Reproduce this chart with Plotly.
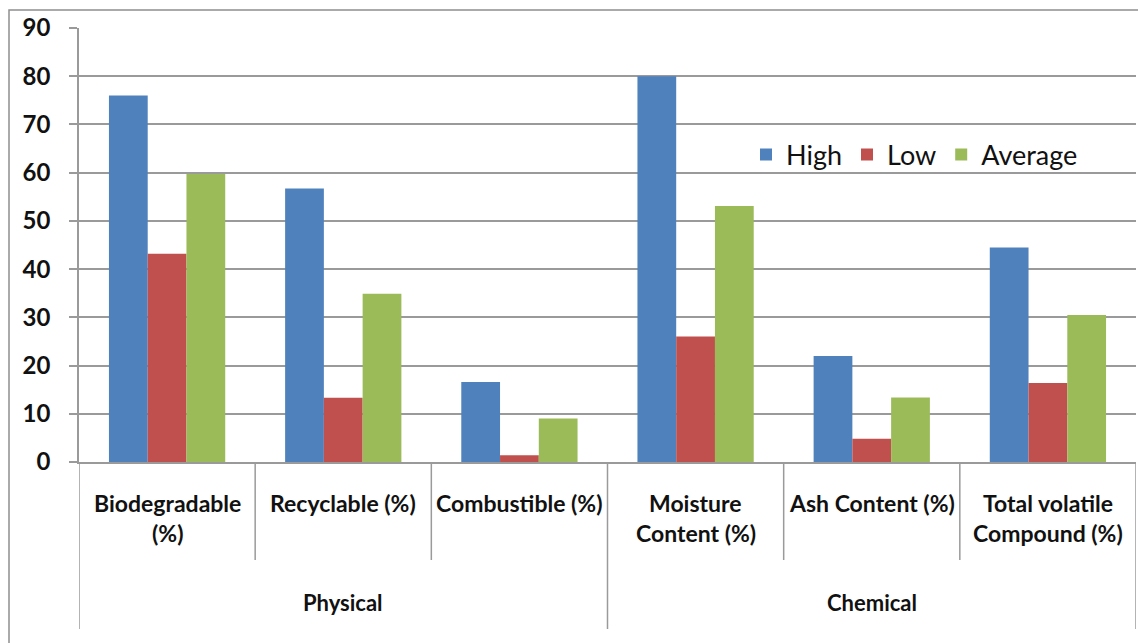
import plotly.graph_objects as go

# Waste characterisation: physical and chemical properties (%)
categories = [
    "Biodegradable (%)",
    "Recyclable (%)",
    "Combustible (%)",
    "Moisture Content (%)",
    "Ash Content (%)",
    "Total volatile Compound (%)",
]
category_lines = [
    ["Biodegradable", "(%)"],
    ["Recyclable (%)"],
    ["Combustible (%)"],
    ["Moisture", "Content (%)"],
    ["Ash Content (%)"],
    ["Total volatile", "Compound (%)"],
]
groups = ["Physical", "Physical", "Physical", "Chemical", "Chemical", "Chemical"]

high = [76.0, 56.7, 16.6, 80.0, 22.0, 44.5]
low = [43.2, 13.3, 1.4, 26.0, 4.8, 16.4]
average = [59.7, 34.9, 9.0, 53.1, 13.4, 30.5]

y_ticks = [0, 10, 20, 30, 40, 50, 60, 70, 80, 90]

series = [
    ("High", high, "#4F81BD"),
    ("Low", low, "#C0504D"),
    ("Average", average, "#9BBB59"),
]

# page geometry (px)
W, H = 1138, 643
ML, MR, MT, MB = 79, 2, 28, 181
PW = W - ML - MR
PH = H - MT - MB


def py(px_y):
    """Page pixel row -> paper y."""
    return (H - MB - px_y) / PH


def pxp(px_x):
    """Page pixel column -> paper x."""
    return (px_x - ML) / PW


fig = go.Figure()
for name, vals, color in series:
    fig.add_trace(go.Bar(
        name=name, x=categories, y=vals,
        marker=dict(color=color, line=dict(width=0)),
    ))

grid_col = "#9a9a9a"
text_col = "#111111"
font_family = "Lato, 'Open Sans', sans-serif"

shapes = []
annotations = []

# category dividers below the value axis
n = len(categories)
for i in range(n + 1):
    edge = i == 0 or i == n or groups[i - 1] != groups[i]
    shapes.append(dict(
        type="line", xref="x", yref="paper",
        x0=i - 0.5, x1=i - 0.5, y0=0, y1=py(629 if edge else 560),
        line=dict(color=grid_col, width=1.5),
    ))

# category labels (one annotation per text line)
for i, lines in enumerate(category_lines):
    for k, line in enumerate(lines):
        annotations.append(dict(
            x=i, xref="x", y=py(503 + 30 * k), yref="paper",
            text=line, showarrow=False, xanchor="center", yanchor="middle",
            font=dict(family=font_family, size=23, color=text_col, weight="bold"),
        ))

# group labels centred on their span
start = 0
for i in range(1, n + 1):
    if i == n or groups[i] != groups[start]:
        annotations.append(dict(
            x=(start + i - 1) / 2, xref="x", y=py(602), yref="paper",
            text=groups[start], showarrow=False, xanchor="center", yanchor="middle",
            font=dict(family=font_family, size=22, color=text_col, weight="bold"),
        ))
        start = i

# outer chart frame
shapes.append(dict(
    type="rect", xref="paper", yref="paper",
    x0=pxp(9), x1=pxp(1150), y0=py(10), y1=py(660),
    line=dict(color="#8f8f8f", width=1.5), fillcolor="rgba(0,0,0,0)",
    layer="below",
))

fig.update_layout(
    width=W, height=H,
    margin=dict(l=ML, r=MR, t=MT, b=MB, pad=0),
    paper_bgcolor="white", plot_bgcolor="white",
    barmode="group", bargap=0.34, bargroupgap=0,
    showlegend=True,
    legend=dict(
        orientation="h", x=pxp(746), xanchor="left", y=py(155), yanchor="middle",
        bgcolor="rgba(0,0,0,0)",
        font=dict(family=font_family, size=27, color=text_col),
        traceorder="normal",
    ),
    xaxis=dict(
        type="category", range=[-0.5, n - 0.5],
        showticklabels=False, ticks="", showgrid=False,
        showline=True, linecolor=grid_col, linewidth=1.5,
        zeroline=False, fixedrange=True,
    ),
    yaxis=dict(
        range=[0, 90], tickvals=y_ticks, ticktext=[str(t) for t in y_ticks],
        showgrid=True, gridcolor=grid_col, gridwidth=1.5,
        showline=True, linecolor=grid_col, linewidth=1.5,
        ticks="outside", ticklen=8, tickcolor=grid_col, tickwidth=1.5,
        ticklabelstandoff=14,
        tickfont=dict(family=font_family, size=24, color=text_col, weight="bold"),
        zeroline=False, fixedrange=True,
    ),
    shapes=shapes,
    annotations=annotations,
)

fig.write_html("out.html")
